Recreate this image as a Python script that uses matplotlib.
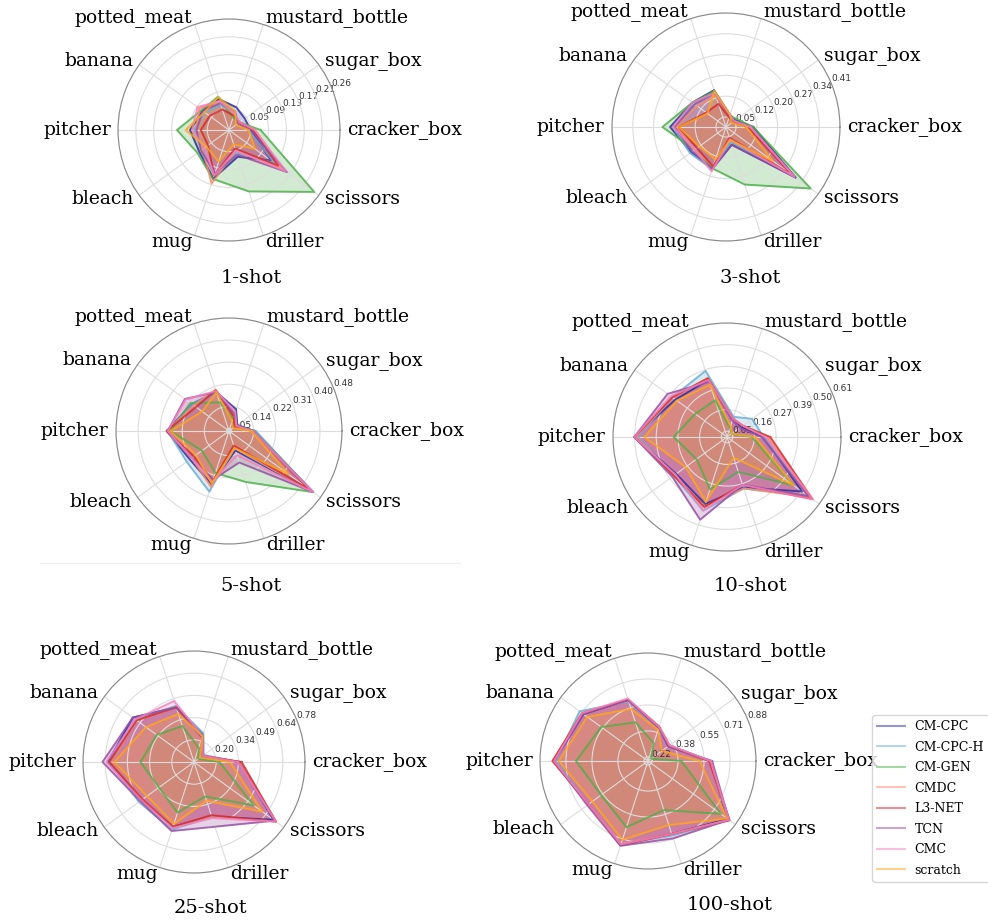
import numpy as np
import matplotlib.pyplot as plt
from matplotlib.lines import Line2D

# categories in polar order, starting at 0 deg and going counter-clockwise
categories = ['cracker_box', 'sugar_box', 'mustard_bottle', 'potted_meat', 'banana',
              'pitcher', 'bleach', 'mug', 'driller', 'scissors']
methods = ['CM-CPC', 'CM-CPC-H', 'CM-GEN', 'CMDC', 'L3-NET', 'TCN', 'CMC', 'scratch']
colors = ['#2c2c9a', '#6baed6', '#4daf4a', '#fb8a6a', '#d62728', '#984ea3', '#f781bf', '#ffa61a']

# rows follow `methods`, columns follow `categories`
shot_1 = [
    [0.050, 0.045, 0.055, 0.075, 0.075, 0.090, 0.085, 0.118, 0.065, 0.120],
    [0.045, 0.030, 0.040, 0.060, 0.070, 0.080, 0.075, 0.110, 0.055, 0.130],
    [0.073, 0.030, 0.030, 0.081, 0.078, 0.120, 0.090, 0.119, 0.149, 0.243],
    [0.060, 0.030, 0.040, 0.070, 0.085, 0.075, 0.075, 0.130, 0.050, 0.150],
    [0.055, 0.030, 0.035, 0.050, 0.055, 0.065, 0.060, 0.110, 0.045, 0.140],
    [0.050, 0.025, 0.045, 0.065, 0.075, 0.075, 0.080, 0.105, 0.060, 0.165],
    [0.060, 0.030, 0.040, 0.070, 0.090, 0.085, 0.070, 0.110, 0.050, 0.162],
    [0.045, 0.020, 0.045, 0.080, 0.070, 0.100, 0.065, 0.077, 0.035, 0.074],
]
shot_3 = [
    [0.110, 0.055, 0.060, 0.150, 0.160, 0.210, 0.165, 0.166, 0.080, 0.315],
    [0.100, 0.050, 0.050, 0.140, 0.150, 0.200, 0.170, 0.170, 0.070, 0.300],
    [0.110, 0.062, 0.056, 0.147, 0.160, 0.237, 0.150, 0.167, 0.226, 0.380],
    [0.100, 0.050, 0.050, 0.130, 0.140, 0.190, 0.150, 0.160, 0.060, 0.310],
    [0.090, 0.045, 0.050, 0.100, 0.100, 0.180, 0.140, 0.160, 0.055, 0.300],
    [0.100, 0.050, 0.055, 0.140, 0.150, 0.195, 0.160, 0.170, 0.080, 0.315],
    [0.100, 0.050, 0.060, 0.140, 0.160, 0.200, 0.150, 0.178, 0.060, 0.310],
    [0.086, 0.040, 0.060, 0.147, 0.095, 0.180, 0.130, 0.134, 0.063, 0.217],
]
shot_5 = [
    [0.140, 0.080, 0.130, 0.200, 0.220, 0.284, 0.230, 0.260, 0.120, 0.448],
    [0.145, 0.075, 0.110, 0.200, 0.220, 0.280, 0.245, 0.290, 0.110, 0.440],
    [0.134, 0.080, 0.090, 0.158, 0.227, 0.270, 0.171, 0.213, 0.250, 0.448],
    [0.135, 0.070, 0.110, 0.210, 0.210, 0.284, 0.220, 0.270, 0.110, 0.440],
    [0.130, 0.070, 0.100, 0.208, 0.200, 0.285, 0.210, 0.250, 0.100, 0.430],
    [0.130, 0.080, 0.110, 0.200, 0.254, 0.280, 0.220, 0.240, 0.170, 0.448],
    [0.130, 0.075, 0.120, 0.205, 0.250, 0.280, 0.220, 0.250, 0.140, 0.448],
    [0.127, 0.060, 0.080, 0.200, 0.170, 0.270, 0.200, 0.257, 0.110, 0.330],
]
shot_10 = [
    [0.210, 0.110, 0.120, 0.330, 0.350, 0.500, 0.345, 0.385, 0.295, 0.500],
    [0.210, 0.180, 0.130, 0.380, 0.370, 0.480, 0.360, 0.420, 0.300, 0.540],
    [0.149, 0.050, 0.070, 0.220, 0.224, 0.296, 0.215, 0.305, 0.210, 0.446],
    [0.230, 0.120, 0.120, 0.340, 0.370, 0.490, 0.360, 0.400, 0.300, 0.550],
    [0.244, 0.120, 0.120, 0.340, 0.370, 0.500, 0.360, 0.400, 0.280, 0.566],
    [0.200, 0.100, 0.110, 0.320, 0.400, 0.500, 0.370, 0.470, 0.280, 0.540],
    [0.220, 0.120, 0.120, 0.330, 0.380, 0.500, 0.350, 0.420, 0.280, 0.570],
    [0.166, 0.050, 0.080, 0.305, 0.340, 0.448, 0.285, 0.373, 0.133, 0.446],
]
shot_25 = [
    [0.350, 0.120, 0.240, 0.430, 0.550, 0.620, 0.480, 0.500, 0.430, 0.700],
    [0.340, 0.130, 0.250, 0.440, 0.530, 0.610, 0.500, 0.520, 0.430, 0.720],
    [0.218, 0.085, 0.150, 0.300, 0.355, 0.404, 0.337, 0.402, 0.290, 0.540],
    [0.350, 0.120, 0.230, 0.430, 0.520, 0.600, 0.470, 0.500, 0.430, 0.720],
    [0.365, 0.120, 0.230, 0.430, 0.520, 0.610, 0.470, 0.500, 0.420, 0.720],
    [0.340, 0.110, 0.220, 0.430, 0.550, 0.655, 0.490, 0.530, 0.500, 0.710],
    [0.340, 0.120, 0.230, 0.474, 0.530, 0.630, 0.480, 0.510, 0.440, 0.720],
    [0.288, 0.100, 0.230, 0.385, 0.443, 0.577, 0.434, 0.480, 0.320, 0.610],
]
shot_100 = [
    [0.585, 0.360, 0.420, 0.600, 0.700, 0.790, 0.660, 0.755, 0.680, 0.820],
    [0.580, 0.350, 0.410, 0.590, 0.730, 0.780, 0.660, 0.750, 0.690, 0.830],
    [0.403, 0.215, 0.310, 0.450, 0.560, 0.650, 0.560, 0.635, 0.520, 0.765],
    [0.580, 0.360, 0.420, 0.600, 0.710, 0.800, 0.660, 0.750, 0.680, 0.830],
    [0.580, 0.350, 0.420, 0.600, 0.710, 0.800, 0.660, 0.755, 0.680, 0.835],
    [0.600, 0.350, 0.410, 0.600, 0.700, 0.790, 0.670, 0.760, 0.710, 0.830],
    [0.590, 0.360, 0.420, 0.610, 0.710, 0.790, 0.660, 0.750, 0.680, 0.830],
    [0.520, 0.300, 0.400, 0.540, 0.670, 0.760, 0.630, 0.720, 0.620, 0.815],
]

shots = ['1-shot', '3-shot', '5-shot', '10-shot', '25-shot', '100-shot']
shot_data = [shot_1, shot_3, shot_5, shot_10, shot_25, shot_100]
r_min = [0.0, 0.015, 0.04, 0.02, 0.05, 0.19]
r_max = [0.256, 0.4125, 0.483, 0.61, 0.784, 0.88]

W, H = 988, 922
# (center x, center y, radius) in pixels, and title position
layout = [(229, 130, 111), (726, 127, 114), (229, 431, 113),
          (727, 437, 114), (194, 762, 111), (648, 761, 108)]
title_pos = [(251, 278), (750, 278), (251, 586), (750, 586), (210, 908), (730, 905)]

fig = plt.figure(figsize=(W / 100, H / 100), dpi=100)

angles = np.linspace(0, 2 * np.pi, len(categories), endpoint=False)
closed = np.concatenate([angles, angles[:1]])

for k, shot in enumerate(shots):
    cx, cy, r = layout[k]
    ax = fig.add_axes([(cx - r) / W, (H - cy - r) / H, 2 * r / W, 2 * r / H],
                      projection='polar')
    for m, method in enumerate(methods):
        vals = np.array(shot_data[k][m])
        vals = np.concatenate([vals, vals[:1]])
        ax.plot(closed, vals, color=colors[m], linewidth=1.4, alpha=0.8)
        ax.fill(closed, vals, color=colors[m], alpha=0.25)
    ax.set_ylim(r_min[k], r_max[k])
    ticks = np.linspace(0.05, r_max[k], 6)
    ticks = ticks[ticks > r_min[k]]
    ax.set_rgrids(ticks, labels=['%.2f' % t for t in ticks], angle=22.5,
                  fontsize=6.5, color='#333333')
    ax.set_xticks(angles)
    ax.set_xticklabels([])
    # category names: left half right-aligned, right half left-aligned
    r_lab = r_max[k] + (r_max[k] - r_min[k]) * 0.065
    for a, name in zip(angles, categories):
        deg = np.degrees(a)
        if 90 < deg < 270:
            ha = 'right'
        else:
            ha = 'left'
        ax.text(a, r_lab, name, family='DejaVu Serif', fontsize=13.5,
                ha=ha, va='center', clip_on=False)
    ax.grid(color='#dddddd', linewidth=0.8)
    ax.spines['polar'].set_color('#888888')
    ax.spines['polar'].set_linewidth(0.8)
    fig.text(title_pos[k][0] / W, 1 - title_pos[k][1] / H, shot,
             family='DejaVu Serif', fontsize=14, ha='center', va='center')

# faint separator line under the 5-shot panel
fig.add_artist(Line2D([40 / W, 460 / W], [1 - 563 / H, 1 - 563 / H],
                      color='#eeeeee', linewidth=0.8))

handles = [Line2D([], [], color=c, alpha=0.5, linewidth=1.5) for c in colors]
fig.legend(handles, methods, loc='upper left', bbox_to_anchor=(872 / W, 1 - 715 / H),
           prop={'family': 'DejaVu Serif', 'size': 9}, frameon=True,
           borderaxespad=0, handlelength=2.2, labelspacing=0.6)

plt.savefig('out.png', dpi=100)
